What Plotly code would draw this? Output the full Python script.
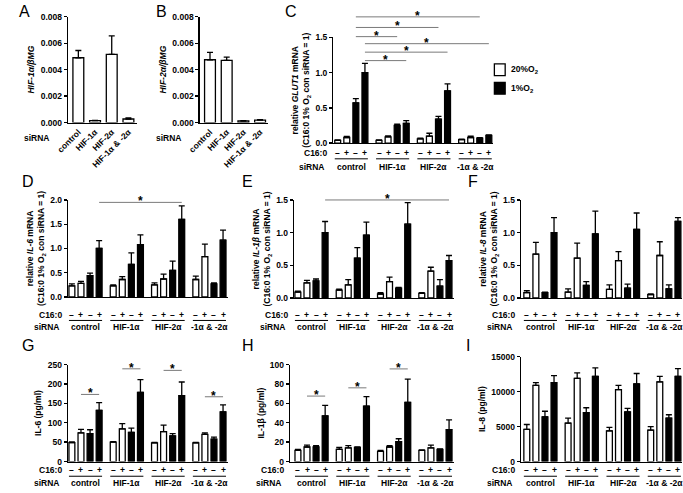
import plotly.graph_objects as go

W, H = 683, 493

# ---------------- data ----------------
sirna_labels = ["control", "HIF-1α", "HIF-2α", "HIF-1α & -2α"]
hif1a_mean = [0.0049, 0.00015, 0.00515, 0.00027]
hif1a_sem = [0.00055, 0.00002, 0.0014, 0.00008]
hif2a_mean = [0.00475, 0.0047, 0.00012, 0.00018]
hif2a_sem = [0.00055, 0.00025, 0.00003, 0.00005]

group_labels = ["control", "HIF-1α", "HIF-2α", "-1α & -2α"]
c16_signs = ["–", "+", "–", "+"]
o2_names = ["20%O<sub>2</sub>", "1%O<sub>2</sub>"]

# order in each group: 20%O2 -C16, 20%O2 +C16, 1%O2 -C16, 1%O2 +C16
glut1_mean = [0.04, 0.08, 0.57, 1.00, 0.04, 0.09, 0.25, 0.28, 0.06, 0.10, 0.34, 0.74, 0.05, 0.08, 0.07, 0.11]
glut1_sem = [0.005, 0.015, 0.06, 0.13, 0.005, 0.012, 0.02, 0.04, 0.01, 0.04, 0.04, 0.10, 0.008, 0.02, 0.008, 0.008]

il6_mrna_mean = [0.23, 0.28, 0.44, 1.00, 0.23, 0.36, 0.67, 1.08, 0.25, 0.37, 0.55, 1.60, 0.36, 0.83, 0.27, 1.17]
il6_mrna_sem = [0.04, 0.04, 0.05, 0.16, 0.02, 0.06, 0.24, 0.20, 0.04, 0.10, 0.19, 0.28, 0.07, 0.26, 0.02, 0.21]

il1b_mrna_mean = [0.09, 0.23, 0.26, 1.00, 0.12, 0.20, 0.61, 0.96, 0.06, 0.25, 0.15, 1.13, 0.07, 0.41, 0.18, 0.57]
il1b_mrna_sem = [0.015, 0.04, 0.03, 0.17, 0.015, 0.08, 0.16, 0.20, 0.02, 0.07, 0.01, 0.33, 0.01, 0.06, 0.10, 0.08]

il8_mrna_mean = [0.08, 0.67, 0.08, 1.00, 0.09, 0.61, 0.19, 0.98, 0.13, 0.57, 0.15, 1.05, 0.05, 0.65, 0.14, 1.17]
il8_mrna_sem = [0.03, 0.18, 0.01, 0.23, 0.05, 0.23, 0.06, 0.35, 0.07, 0.14, 0.06, 0.25, 0.01, 0.21, 0.06, 0.06]

il6_prot_mean = [49, 74, 72, 132, 50, 84, 75, 178, 48, 77, 66, 170, 48, 70, 58, 128]
il6_prot_sem = [1.5, 9, 10, 20, 1.5, 14, 11, 33, 1.5, 17, 6, 35, 1.5, 4, 5, 18]

il1b_prot_mean = [11.5, 15, 15, 47, 12.5, 14, 14.5, 57, 10.5, 15, 20.5, 61, 11.5, 14, 12.5, 33]
il1b_prot_sem = [1, 2, 1.5, 11, 2, 2.5, 0.5, 10, 1, 1.5, 3, 24, 0.5, 3, 0.5, 10]

il8_prot_mean = [4600, 10900, 6400, 11300, 5500, 11900, 7000, 12200, 4400, 10300, 7100, 11100, 4500, 11400, 6200, 12200]
il8_prot_sem = [700, 400, 800, 1000, 700, 800, 700, 1200, 500, 600, 500, 1500, 500, 800, 500, 1100]

# significance brackets: (from bar, to bar, height in data units)
sig_glut1 = [(2, 6, 1.51), (2, 10, 1.64), (2, 14, 1.79), (3, 7, 1.17), (3, 11, 1.29), (3, 15, 1.41)]
sig_il6_mrna = [(3, 11, 1.95)]
sig_il1b_mrna = [(3, 15, 1.50)]
sig_il6_prot = [(1, 3, 173), (5, 7, 239), (9, 11, 235), (13, 15, 167)]
sig_il1b_prot = [(1, 3, 67.5), (5, 7, 76), (9, 11, 95.5)]

# ---------------- layout geometry (pixels) ----------------
GROUP_PITCH = 4.55
BAR_W = 0.65
FONT = "Liberation Sans, Arial, sans-serif"
BLACK = "#000000"
GREY = "#7a7a7a"
TICK_SIZE = 8.5
LAB_SIZE = 8.5


def ytitle2(gene):
    return "relative <i>%s</i> mRNA<br>(C16:0 1%% O<sub>2</sub> con siRNA = 1)" % gene


panels = [
    dict(kind="simple", letter="A", lx=5, ly=7, x0=57, x1=127, yb=120, yt=12, ymax=0.008, dtick=0.002, fmt=".3f",
         title="<i>HIF-1α/βMG</i>", mean=hif1a_mean, sem=hif1a_sem),
    dict(kind="simple", letter="B", lx=145, ly=7, x0=191, x1=261, yb=120, yt=12, ymax=0.008, dtick=0.002, fmt=".3f",
         title="<i>HIF-2α/βMG</i>", mean=hif2a_mean, sem=hif2a_sem),
    dict(kind="group", letter="C", lx=276, ly=7, x0=327, off=0.49, yb=141, yt=33, ymax=1.5, dtick=0.5, fmt=".1f",
         title=ytitle2("GLUT1"), mean=glut1_mean, sem=glut1_sem, sig=sig_glut1, rows=(151, 157, 165)),
    dict(kind="group", letter="D", lx=8, ly=180, x0=57, off=0.43, yb=298, yt=199, ymax=2.0, dtick=0.5, fmt=".1f",
         title=ytitle2("IL-6"), mean=il6_mrna_mean, sem=il6_mrna_sem, sig=sig_il6_mrna, rows=(316, 322, 329)),
    dict(kind="group", letter="E", lx=232, ly=180, x0=287, off=0.43, yb=299, yt=199, ymax=1.5, dtick=0.5, fmt=".1f",
         title=ytitle2("IL-1<i>β</i>"), mean=il1b_mrna_mean, sem=il1b_mrna_sem, sig=sig_il1b_mrna, rows=(316, 322, 329)),
    dict(kind="group", letter="F", lx=462, ly=180, x0=518, off=0.65, yb=299, yt=199, ymax=1.5, dtick=0.5, fmt=".1f",
         title=ytitle2("IL-8"), mean=il8_mrna_mean, sem=il8_mrna_sem, sig=[], rows=(316, 322, 329)),
    dict(kind="group", letter="G", lx=8, ly=348, x0=57, off=0.43, yb=466, yt=367, ymax=250, dtick=50, fmt="d",
         title="IL-6 (pg/ml)", mean=il6_prot_mean, sem=il6_prot_sem, sig=sig_il6_prot, rows=(475, 481, 488)),
    dict(kind="group", letter="H", lx=232, ly=348, x0=283, off=0.87, yb=466, yt=367, ymax=100, dtick=20, fmt="d",
         title="IL-1β (pg/ml)", mean=il1b_prot_mean, sem=il1b_prot_sem, sig=sig_il1b_prot, rows=(475, 481, 488)),
    dict(kind="group", letter="I", lx=460, ly=348, x0=518, off=0.65, yb=466, yt=359, ymax=15000, dtick=5000, fmt="d",
         title="IL-8 (pg/ml)", mean=il8_prot_mean, sem=il8_prot_sem, sig=[], rows=(475, 481, 488)),
]

PX_PER_UNIT = 9.24
END_PAD = 0.5


def bar_x(i):
    return (i // 4) * GROUP_PITCH + (i % 4)


fig = go.Figure()
shapes = []
annotations = []

for k, p in enumerate(panels):
    n = k + 1
    xa = "x" if n == 1 else "x%d" % n
    ya = "y" if n == 1 else "y%d" % n
    if p["kind"] == "simple":
        r0, r1 = -0.62, 3.5
    else:
        r0 = -p["off"]
        r1 = bar_x(15) + END_PAD
        p["x1"] = p["x0"] + (r1 - r0) * PX_PER_UNIT
    p["r0"], p["r1"] = r0, r1

    def xp(v, p=p):
        return (p["x0"] + (v - p["r0"]) / (p["r1"] - p["r0"]) * (p["x1"] - p["x0"])) / W

    def yp(v, p=p):
        return 1 - (p["yb"] - v / p["ymax"] * (p["yb"] - p["yt"])) / H

    err_style = dict(type="data", symmetric=False, color=BLACK, thickness=1.3, width=3)
    if p["kind"] == "simple":
        xs = list(range(len(p["mean"])))
        fig.add_trace(go.Bar(x=xs, y=p["mean"], xaxis=xa, yaxis=ya, width=BAR_W, showlegend=False,
                             marker=dict(color="white", line=dict(color=BLACK, width=1.3)),
                             error_y=dict(array=p["sem"], arrayminus=[0] * len(xs), **err_style)))
    else:
        for oi, (fill, name) in enumerate([("white", o2_names[0]), (BLACK, o2_names[1])]):
            idx = [i for i in range(16) if (i % 4) // 2 == oi]
            fig.add_trace(go.Bar(x=[bar_x(i) for i in idx], y=[p["mean"][i] for i in idx],
                                 xaxis=xa, yaxis=ya, width=BAR_W, name=name, showlegend=False,
                                 marker=dict(color=fill, line=dict(color=BLACK, width=1.3)),
                                 error_y=dict(array=[p["sem"][i] for i in idx], arrayminus=[0] * len(idx),
                                              **err_style)))

    xaxis_kw = dict(domain=[p["x0"] / W, p["x1"] / W], range=[r0, r1], anchor=ya,
                    showline=True, linecolor=BLACK, linewidth=1.3, showgrid=False, zeroline=False, fixedrange=True)
    if p["kind"] == "simple":
        xaxis_kw.update(tickmode="array", tickvals=list(range(4)), ticktext=sirna_labels, tickangle=-45,
                        ticks="", tickfont=dict(family=FONT, size=TICK_SIZE, color=BLACK, weight="bold"))
    else:
        xaxis_kw.update(showticklabels=False, ticks="")
    yaxis_kw = dict(domain=[1 - p["yb"] / H, 1 - p["yt"] / H], range=[0, p["ymax"]], anchor=xa,
                    showline=True, linecolor=BLACK, linewidth=1.3, showgrid=False, zeroline=False,
                    ticks="outside", ticklen=3, tickwidth=1.3, tickcolor=BLACK, dtick=p["dtick"], tick0=0,
                    tickformat=p["fmt"], tickfont=dict(family=FONT, size=TICK_SIZE, color=BLACK, weight="bold"),
                    title=dict(text=p["title"], standoff=4,
                               font=dict(family=FONT, size=8.5, color=BLACK, weight="bold")),
                    fixedrange=True)
    fig.layout["xaxis" if n == 1 else "xaxis%d" % n] = xaxis_kw
    fig.layout["yaxis" if n == 1 else "yaxis%d" % n] = yaxis_kw

    # panel letter
    annotations.append(dict(text=p["letter"], x=p["lx"] / W, y=1 - p["ly"] / H, xref="paper", yref="paper",
                            showarrow=False, xanchor="left", yanchor="middle",
                            font=dict(family=FONT, size=16, color=BLACK)))

    lab_font = dict(family=FONT, size=LAB_SIZE, color=BLACK, weight="bold")
    if p["kind"] == "simple":
        annotations.append(dict(text="siRNA", x=(p["x0"] - 16) / W, y=1 - 136 / H, xref="paper", yref="paper",
                                showarrow=False, xanchor="right", yanchor="middle", font=lab_font))
        continue

    # C16:0 / siRNA rows
    sy, ly, ny = p["rows"]
    annotations.append(dict(text="C16:0", x=(p["x0"] - 4) / W, y=1 - sy / H, xref="paper", yref="paper",
                            showarrow=False, xanchor="right", yanchor="middle", font=lab_font))
    annotations.append(dict(text="siRNA", x=(p["x0"] - 6) / W, y=1 - ny / H, xref="paper", yref="paper",
                            showarrow=False, xanchor="right", yanchor="middle", font=lab_font))
    for i in range(16):
        annotations.append(dict(text=c16_signs[i % 4], x=xp(bar_x(i)), y=1 - sy / H, xref="paper", yref="paper",
                                showarrow=False, xanchor="center", yanchor="middle", font=lab_font))
    for g in range(4):
        a, b = bar_x(4 * g) - BAR_W / 2, bar_x(4 * g + 3) + BAR_W / 2
        shapes.append(dict(type="line", xref="paper", yref="paper", x0=xp(a), x1=xp(b),
                           y0=1 - ly / H, y1=1 - ly / H, line=dict(color=BLACK, width=1)))
        annotations.append(dict(text=group_labels[g], x=xp((a + b) / 2), y=1 - ny / H, xref="paper",
                                yref="paper", showarrow=False, xanchor="center", yanchor="middle", font=lab_font))
    # significance lines
    for (i0, i1, h) in p["sig"]:
        shapes.append(dict(type="line", xref="paper", yref="paper", x0=xp(bar_x(i0)), x1=xp(bar_x(i1)),
                           y0=yp(h), y1=yp(h), line=dict(color=GREY, width=1)))
        annotations.append(dict(text="*", x=xp((bar_x(i0) + bar_x(i1)) / 2), y=yp(h), xref="paper", yref="paper",
                                showarrow=False, xanchor="center", yanchor="middle", yshift=1,
                                font=dict(family=FONT, size=12, color=BLACK, weight="bold")))

# legend (manual)
leg = [(60, "white", o2_names[0]), (79, BLACK, o2_names[1])]
for (top, fill, name) in leg:
    shapes.append(dict(type="rect", xref="paper", yref="paper", x0=491 / W, x1=502 / W,
                       y0=1 - top / H, y1=1 - (top + 12) / H, fillcolor=fill, line=dict(color=BLACK, width=1.3)))
    annotations.append(dict(text=name, x=506 / W, y=1 - (top + 6) / H, xref="paper", yref="paper",
                            showarrow=False, xanchor="left", yanchor="middle",
                            font=dict(family=FONT, size=8.5, color=BLACK, weight="bold")))

fig.update_layout(width=W, height=H, margin=dict(l=0, r=0, t=0, b=0), plot_bgcolor="white",
                  paper_bgcolor="white", shapes=shapes, annotations=annotations, showlegend=False,
                  bargap=0, font=dict(family=FONT, color=BLACK))

fig.write_html("out.html", config={"displayModeBar": False, "staticPlot": True},
               post_script="document.body.style.margin='0';")
